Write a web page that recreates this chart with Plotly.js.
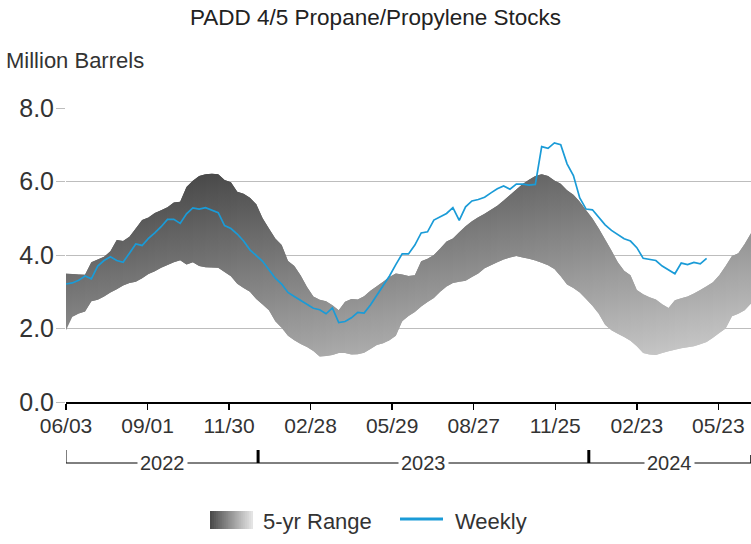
<!DOCTYPE html>
<html>
<head>
<meta charset="utf-8">
<script src="https://cdn.plot.ly/plotly-3.0.1.min.js"></script>
<style>
  html, body { margin: 0; padding: 0; background: #fff; }
  #chart { width: 751px; height: 544px; }
</style>
</head>
<body>
<div id="chart"></div>
<script>
// ---- data ----
const firstWeek = '2022-06-03';   // weekly (Friday) dates start here
const rangeEnd = '2024-06-28';

const weekly = [
  3.21,3.24,3.31,3.43,3.35,3.70,3.85,3.95,3.85,3.80,
  4.05,4.30,4.26,4.45,4.60,4.77,4.97,4.97,4.86,5.12,
  5.28,5.25,5.29,5.21,5.15,4.80,4.72,4.57,4.38,4.14,
  3.99,3.83,3.60,3.37,3.21,2.98,2.87,2.77,2.66,2.55,
  2.51,2.40,2.56,2.16,2.19,2.29,2.44,2.42,2.64,2.91,
  3.17,3.43,3.74,4.03,4.03,4.27,4.60,4.63,4.95,5.04,
  5.13,5.29,4.94,5.31,5.47,5.51,5.57,5.69,5.80,5.88,
  5.79,5.93,5.93,5.90,5.92,6.95,6.90,7.05,7.00,6.48,
  6.16,5.55,5.25,5.23,5.02,4.82,4.67,4.55,4.44,4.38,
  4.20,3.91,3.89,3.85,3.70,3.60,3.49,3.78,3.74,3.80,
  3.76,3.91
];

const rangeHigh = [
  3.50,3.48,3.47,3.46,3.80,3.88,3.95,4.10,4.41,4.38,
  4.50,4.72,4.95,5.02,5.14,5.22,5.30,5.43,5.45,5.85,
  6.02,6.15,6.20,6.21,6.20,6.04,5.98,5.72,5.67,5.56,
  5.38,5.00,4.72,4.45,4.27,3.84,3.70,3.44,3.13,2.87,
  2.78,2.74,2.63,2.50,2.73,2.80,2.79,2.88,3.03,3.15,
  3.27,3.40,3.50,3.47,3.43,3.45,3.83,3.90,4.00,4.18,
  4.37,4.45,4.62,4.78,4.92,5.03,5.12,5.23,5.34,5.48,
  5.63,5.78,5.93,6.05,6.15,6.20,6.15,6.03,5.94,5.76,
  5.64,5.45,5.22,4.99,4.72,4.42,4.12,3.80,3.57,3.45,
  3.05,2.93,2.85,2.79,2.66,2.56,2.77,2.82,2.87,2.95,
  3.05,3.15,3.26,3.45,3.70,3.97,4.05,4.30,4.59
];

const rangeLow = [
  1.95,2.32,2.41,2.46,2.74,2.78,2.87,2.98,3.07,3.17,
  3.24,3.27,3.37,3.48,3.56,3.65,3.73,3.80,3.86,3.74,
  3.80,3.70,3.67,3.66,3.65,3.54,3.42,3.22,3.10,3.00,
  2.80,2.65,2.50,2.20,2.02,1.80,1.68,1.58,1.50,1.39,
  1.24,1.25,1.28,1.33,1.33,1.29,1.30,1.34,1.44,1.55,
  1.60,1.68,1.80,2.20,2.34,2.45,2.60,2.72,2.83,3.00,
  3.14,3.24,3.27,3.30,3.40,3.50,3.64,3.72,3.80,3.88,
  3.93,3.97,3.93,3.90,3.85,3.79,3.72,3.62,3.42,3.20,
  3.10,2.98,2.80,2.62,2.40,2.10,1.95,1.86,1.77,1.67,
  1.52,1.33,1.29,1.28,1.33,1.38,1.42,1.46,1.49,1.52,
  1.57,1.63,1.75,1.88,2.00,2.33,2.40,2.50,2.68
];

const tickDates = ['2022-06-03','2022-09-01','2022-11-30','2023-02-28','2023-05-29',
                   '2023-08-27','2023-11-25','2024-02-23','2024-05-23'];
const tickLabels = ['06/03','09/01','11/30','02/28','05/29','08/27','11/25','02/23','05/23'];
const yTicks = [0, 2, 4, 6, 8];
const years = ['2022', '2023', '2024'];
const yearStarts = ['2023-01-01', '2024-01-01'];

// ---- build weekly date list ----
const DAY = 86400000;
const t0 = Date.parse(firstWeek + 'T00:00:00Z');
const nBand = rangeHigh.length;
const dates = [];
for (let i = 0; i < nBand; i++) dates.push(new Date(t0 + i * 7 * DAY).toISOString().slice(0, 10));
const weeklyDates = dates.slice(0, weekly.length);

// ---- styling helpers ----
const FONT = 'Liberation Sans, Arial, sans-serif';
const TXT = '#333333';
function gray(l) { l = Math.max(0, Math.min(255, Math.round(l))); return 'rgb(' + l + ',' + l + ',' + l + ')'; }
// diagonal grey shading: darker to the left and at higher values
const G_BASE = 170, G_H = 58, G_V = 17.5;

const traces = [];
for (let i = 0; i < nBand - 1; i++) {
  const j = Math.min(i + 2, nBand - 1);
  const xs = dates.slice(i, j + 1);
  const xsR = xs.slice().reverse();
  const hi = rangeHigh.slice(i, j + 1);
  const lo = rangeLow.slice(i, j + 1).reverse();
  const p = i / (nBand - 1);
  traces.push({
    type: 'scatter', mode: 'none',
    x: xs.concat(xsR), y: hi.concat(lo),
    fill: 'toself',
    fillgradient: {
      type: 'vertical', start: 0, stop: 8,
      colorscale: [[0, gray(G_BASE + G_H * p)], [1, gray(G_BASE + G_H * p - 8 * G_V)]]
    },
    showlegend: false, hoverinfo: 'skip'
  });
}
traces.push({
  type: 'scatter', mode: 'lines', name: 'Weekly',
  x: weeklyDates, y: weekly,
  line: { color: '#1a9bd7', width: 1.7 },
  showlegend: false
});

// ---- year brackets below the axis ----
const PY = Y => (402 - Y) / 294;   // pixel row -> paper y
const PX = X => (X - 66) / 685;    // pixel col -> paper x
const shapes = [];
const lineY = PY(463);
shapes.push({ type: 'line', xref: 'x', yref: 'paper', x0: firstWeek, x1: rangeEnd, y0: lineY, y1: lineY, line: { color: '#000', width: 1 } });
shapes.push({ type: 'line', xref: 'x', yref: 'paper', x0: firstWeek, x1: firstWeek, y0: PY(450), y1: lineY, line: { color: '#000', width: 1 } });
shapes.push({ type: 'line', xref: 'x', yref: 'paper', x0: rangeEnd, x1: rangeEnd, y0: PY(455), y1: lineY, line: { color: '#000', width: 1.5 } });
yearStarts.forEach(d => shapes.push({ type: 'line', xref: 'x', yref: 'paper', x0: d, x1: d, y0: PY(450), y1: lineY, line: { color: '#000', width: 3 } }));

const bounds = [firstWeek].concat(yearStarts).concat([rangeEnd]).map(d => Date.parse(d + 'T00:00:00Z'));
const annotations = [];
years.forEach((yr, k) => {
  const mid = new Date((bounds[k] + bounds[k + 1]) / 2).toISOString().slice(0, 10);
  annotations.push({ xref: 'x', yref: 'paper', x: mid, y: lineY, text: yr, showarrow: false,
    font: { family: FONT, size: 20, color: TXT }, bgcolor: '#ffffff', borderpad: 2, xanchor: 'center', yanchor: 'middle' });
});
annotations.push({ xref: 'paper', yref: 'paper', x: PX(4), y: PY(60), text: 'Million Barrels', showarrow: false,
  xanchor: 'left', yanchor: 'middle', font: { family: FONT, size: 22, color: TXT } });

// ---- custom legend ----
const swX0 = PX(210), swX1 = PX(253), swY0 = PY(529), swY1 = PY(511);
const nSteps = 22;
for (let k = 0; k < nSteps; k++) {
  const f = k / (nSteps - 1);
  shapes.push({ type: 'rect', xref: 'paper', yref: 'paper',
    x0: swX0 + (swX1 - swX0) * k / nSteps, x1: swX1, y0: swY0, y1: swY1,
    line: { width: 0 }, fillcolor: gray(75 + (228 - 75) * f) });
}
annotations.push({ xref: 'paper', yref: 'paper', x: PX(261), y: PY(521), text: '5-yr Range', showarrow: false,
  xanchor: 'left', yanchor: 'middle', font: { family: FONT, size: 22, color: TXT } });
shapes.push({ type: 'line', xref: 'paper', yref: 'paper', x0: PX(400), x1: PX(443), y0: PY(519), y1: PY(519),
  line: { color: '#1a9bd7', width: 3 } });
annotations.push({ xref: 'paper', yref: 'paper', x: PX(453), y: PY(521), text: 'Weekly', showarrow: false,
  xanchor: 'left', yanchor: 'middle', font: { family: FONT, size: 22, color: TXT } });

const layout = {
  width: 751, height: 544,
  margin: { l: 66, r: 0, t: 108, b: 142 },
  paper_bgcolor: '#ffffff', plot_bgcolor: '#ffffff',
  showlegend: false,
  title: { text: 'PADD 4/5 Propane/Propylene Stocks', x: 0.5, xanchor: 'center', y: 1 - 17 / 544, yanchor: 'middle',
    yref: 'container', font: { family: FONT, size: 22.5, color: '#222' } },
  xaxis: {
    type: 'date', range: [firstWeek, rangeEnd],
    tickmode: 'array', tickvals: tickDates, ticktext: tickLabels,
    ticks: 'outside', ticklen: 6, tickwidth: 1.5, tickcolor: '#000',
    showline: true, linecolor: '#000', linewidth: 1.5,
    showgrid: false, zeroline: false,
    tickfont: { family: FONT, size: 21, color: TXT }, ticklabelstandoff: -2
  },
  yaxis: {
    range: [0, 8], tickmode: 'array', tickvals: yTicks, tickformat: '.1f',
    ticks: 'outside', ticklen: 9, tickcolor: '#bdbdbd', tickwidth: 1,
    showgrid: true, gridcolor: '#bdbdbd', gridwidth: 1, zeroline: false, showline: false,
    tickfont: { family: FONT, size: 25, color: TXT }, ticklabelstandoff: -3
  },
  shapes: shapes,
  annotations: annotations
};

Plotly.newPlot('chart', traces, layout, { staticPlot: true, displayModeBar: false });
</script>
</body>
</html>
